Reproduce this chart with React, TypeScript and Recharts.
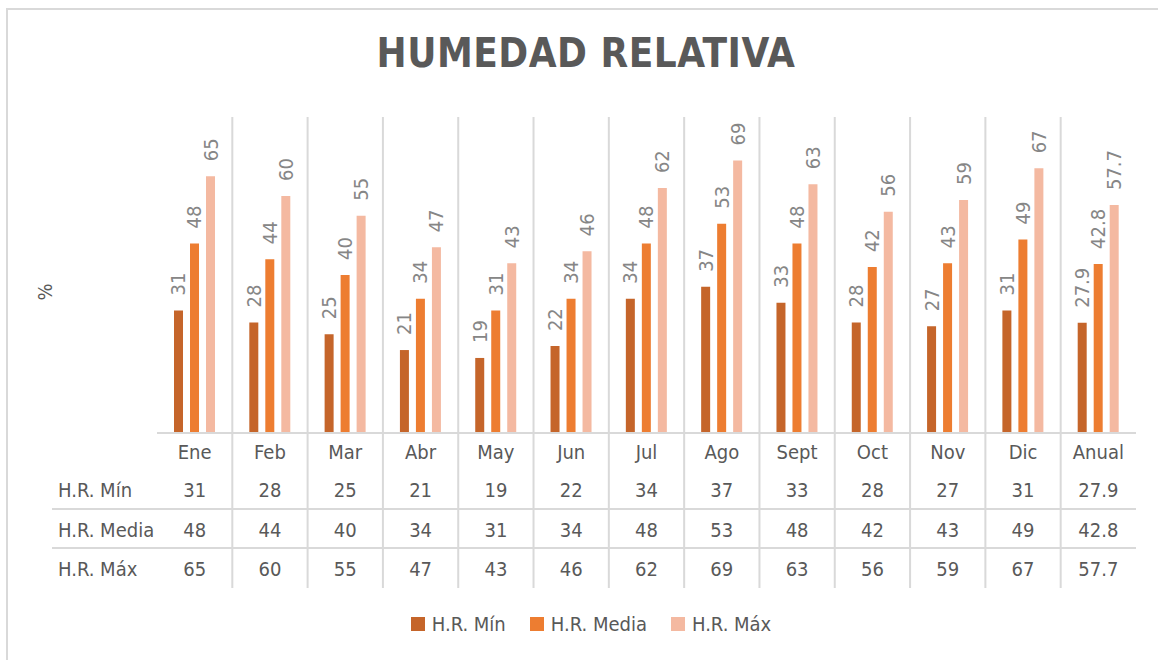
import React from "react";
import { BarChart, Bar, XAxis, YAxis, LabelList } from "recharts";

// datos de la tabla
const categories = ["Ene", "Feb", "Mar", "Abr", "May", "Jun", "Jul", "Ago", "Sept", "Oct", "Nov", "Dic", "Anual"];
const hrMin = [31, 28, 25, 21, 19, 22, 34, 37, 33, 28, 27, 31, 27.9];
const hrMedia = [48, 44, 40, 34, 31, 34, 48, 53, 48, 42, 43, 49, 42.8];
const hrMax = [65, 60, 55, 47, 43, 46, 62, 69, 63, 56, 59, 67, 57.7];

const series = [
  { key: "min", name: "H.R. Mín", color: "#C5652A", values: hrMin },
  { key: "media", name: "H.R. Media", color: "#ED7D31", values: hrMedia },
  { key: "max", name: "H.R. Máx", color: "#F4B9A1", values: hrMax },
];

const data = categories.map((cat, i) => ({
  cat,
  min: hrMin[i],
  media: hrMedia[i],
  max: hrMax[i],
}));

const W = 1158;
const H = 660;
const PLOT_TOP = 117;
const PLOT_BOTTOM = 433;
const PLOT_LEFT = 157;
const PLOT_RIGHT = 1136;
const XAXIS_H = 30;
const BAND = (PLOT_RIGHT - PLOT_LEFT) / categories.length;
const TABLE_BOTTOM = 588;
const ROW_BASE = [497, 537, 576];
const ROW_LINES = [509, 548];

const FONT = "'DejaVu Sans Condensed', 'DejaVu Sans', sans-serif";
const TEXT = "#595959";
const GRID = "#D9D9D9";
const FS = 20;

const renderLabel = (props: any) => {
  const { x, y, width, value } = props;
  const cx = Number(x) + Number(width) / 2;
  const ty = Number(y) - 15;
  return (
    <text
      x={cx}
      y={ty}
      transform={`rotate(-90 ${cx} ${ty})`}
      textAnchor="start"
      dominantBaseline="central"
      fill="#868686"
      fontSize={FS}
      fontFamily={FONT}
    >
      {value}
    </text>
  );
};

// tick = etiqueta de categoría + columna de la tabla + línea divisoria
const renderTick = (props: any) => {
  const { x, index } = props;
  const i = Number(index);
  return (
    <g>
      {i < categories.length - 1 && (
        <line x1={x + BAND / 2} x2={x + BAND / 2} y1={PLOT_TOP} y2={TABLE_BOTTOM} stroke={GRID} strokeWidth={2} />
      )}
      <text x={x} y={459} textAnchor="middle" fill={TEXT} fontSize={FS} fontFamily={FONT}>
        {categories[i]}
      </text>
      {series.map((s, r) => (
        <text key={s.key} x={x} y={ROW_BASE[r]} textAnchor="middle" fill={TEXT} fontSize={FS} fontFamily={FONT}>
          {s.values[i]}
        </text>
      ))}
    </g>
  );
};

export default function App() {
  return (
    <div style={{ position: "absolute", left: 0, top: 0, width: W, height: H, background: "#fff", fontFamily: FONT }}>
      <div
        style={{
          position: "absolute",
          left: 6,
          top: 8,
          right: -10,
          bottom: -10,
          borderTop: `2px solid ${GRID}`,
          borderLeft: `2px solid ${GRID}`,
        }}
      />
      <div
        style={{
          position: "absolute",
          left: 0,
          width: W,
          top: 30,
          textAlign: "center",
          paddingLeft: 14,
          boxSizing: "border-box",
          fontSize: 40,
          fontWeight: "bold",
          letterSpacing: 0.5,
          color: TEXT,
          fontFamily: FONT,
        }}
      >
        HUMEDAD RELATIVA
      </div>

      <div style={{ position: "absolute", left: 0, top: 0 }}>
        <BarChart
          width={W}
          height={H}
          data={data}
          margin={{ top: PLOT_TOP, right: W - PLOT_RIGHT, bottom: H - PLOT_BOTTOM - XAXIS_H, left: 0 }}
          barSize={9}
          barGap={7}
        >
          <XAxis
            dataKey="cat"
            height={XAXIS_H}
            interval={0}
            tickLine={false}
            axisLine={{ stroke: GRID, strokeWidth: 2 }}
            tick={renderTick}
          />
          <YAxis
            domain={[0, 80]}
            width={PLOT_LEFT}
            tick={false}
            axisLine={false}
            tickLine={false}
            label={{
              content: (p: any) => {
                const vb = p.viewBox || {};
                const cy = vb.y + vb.height / 2 + 17;
                return (
                  <text
                    x={45}
                    y={cy}
                    transform={`rotate(-90 45 ${cy})`}
                    textAnchor="middle"
                    dominantBaseline="central"
                    fill={TEXT}
                    fontSize={FS}
                    fontFamily={FONT}
                  >
                    %
                  </text>
                );
              },
            }}
          />
          {series.map((s) => (
            <Bar key={s.key} dataKey={s.key} name={s.name} fill={s.color} isAnimationActive={false}>
              <LabelList dataKey={s.key} content={renderLabel} />
            </Bar>
          ))}
        </BarChart>
      </div>

      {/* filas de la tabla */}
      <svg width={W} height={H} style={{ position: "absolute", left: 0, top: 0, pointerEvents: "none" }}>
        {ROW_LINES.map((y) => (
          <line key={y} x1={52} x2={PLOT_RIGHT} y1={y} y2={y} stroke={GRID} strokeWidth={2} />
        ))}
        {series.map((s, r) => (
          <text key={s.key} x={58} y={ROW_BASE[r]} fill={TEXT} fontSize={FS} fontFamily={FONT}>
            {s.name}
          </text>
        ))}
      </svg>

      {/* leyenda */}
      <div
        style={{
          position: "absolute",
          left: 0,
          width: W,
          top: 612,
          display: "flex",
          justifyContent: "center",
          paddingLeft: 24,
          boxSizing: "border-box",
          fontSize: FS,
          color: TEXT,
        }}
      >
        {series.map((s, i) => (
          <div
            key={s.key}
            style={{ display: "flex", alignItems: "center", marginRight: i < series.length - 1 ? 24 : 0 }}
          >
            <span style={{ width: 14, height: 14, background: s.color, marginRight: 7, display: "inline-block" }} />
            <span>{s.name}</span>
          </div>
        ))}
      </div>
    </div>
  );
}
